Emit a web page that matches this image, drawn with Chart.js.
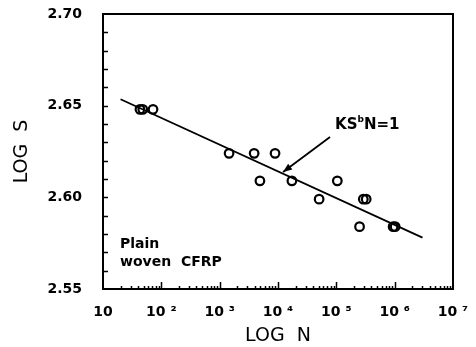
<!DOCTYPE html>
<html>
<head>
<meta charset="utf-8">
<script src="https://cdn.jsdelivr.net/npm/chart.js@4/dist/chart.umd.min.js"></script>
<style>
  html, body { margin: 0; padding: 0; background: #fff; }
  #wrap { width: 476px; height: 347px; }
</style>
</head>
<body>
<div id="wrap"><canvas id="snChart" width="476" height="347"></canvas></div>
<script>
// cycles to failure and log of stress
const cycles = [43, 48, 72, 1450, 3900, 8900, 4900, 17300, 50700, 104000, 290000, 325000, 250000, 940000, 1020000];
const logS = [2.648, 2.648, 2.648, 2.624, 2.624, 2.624, 2.609, 2.609, 2.599, 2.609, 2.599, 2.599, 2.584, 2.584, 2.584];

// fitted line KS^bN=1, end points
const fitN = [20, 3.0e6];
const fitS = [2.6535, 2.578];

// axis ticks
const xDecades = [10, 1e2, 1e3, 1e4, 1e5, 1e6, 1e7];
const xTickLabels = ["10", "10 \u00b2", "10 \u00b3", "10 \u2074", "10 \u2075", "10 \u2076", "10 \u2077"];
const yTicks = [2.55, 2.60, 2.65, 2.70];
const yMinorStep = 0.01;

// annotation: label and leader line (in data units)
const noteLabel = { n: 9.5e4, s: 2.6394 };
const noteFrom = { n: 7.8e4, s: 2.6329 };
const noteTo = { n: 1.22e4, s: 2.6138 };
const materialLines = ["Plain", "woven  CFRP"];
const materialPos = { n: 19.6, s: 2.5745 };

const frameTicks = {
  id: "frameTicks",
  afterDraw(chart) {
    const { ctx, chartArea: a, scales: { x, y } } = chart;
    ctx.save();
    ctx.strokeStyle = "#000";
    ctx.lineWidth = 1.5;
    // y ticks, inward
    for (let v = yTicks[0] + yMinorStep; v < yTicks[yTicks.length - 1] - 1e-6; v += yMinorStep) {
      const py = Math.round(y.getPixelForValue(v)) + 0.5;
      ctx.beginPath();
      ctx.moveTo(a.left, py);
      ctx.lineTo(a.left + 5, py);
      ctx.stroke();
    }
    // x ticks, inward, log minor ticks
    for (let d = 0; d < xDecades.length - 1; d++) {
      for (let m = 1; m < 10; m++) {
        const v = xDecades[d] * m;
        const px = Math.round(x.getPixelForValue(v)) + 0.5;
        const len = m === 1 ? 7 : 3;
        if (m === 1 && d === 0) continue;
        ctx.beginPath();
        ctx.moveTo(px, a.bottom);
        ctx.lineTo(px, a.bottom - len);
        ctx.stroke();
      }
    }
    // frame
    ctx.lineWidth = 2;
    ctx.strokeRect(a.left, a.top, a.right - a.left, a.bottom - a.top);

    // annotation
    ctx.fillStyle = "#000";
    const fx = x.getPixelForValue(noteFrom.n), fy = y.getPixelForValue(noteFrom.s);
    const tx = x.getPixelForValue(noteTo.n), ty = y.getPixelForValue(noteTo.s);
    ctx.lineWidth = 1.8;
    ctx.beginPath();
    ctx.moveTo(fx, fy);
    ctx.lineTo(tx, ty);
    ctx.stroke();
    const ang = Math.atan2(ty - fy, tx - fx);
    ctx.beginPath();
    ctx.moveTo(tx, ty);
    ctx.lineTo(tx - 9 * Math.cos(ang) + 3.5 * Math.sin(ang), ty - 9 * Math.sin(ang) - 3.5 * Math.cos(ang));
    ctx.lineTo(tx - 9 * Math.cos(ang) - 3.5 * Math.sin(ang), ty - 9 * Math.sin(ang) + 3.5 * Math.cos(ang));
    ctx.closePath();
    ctx.fill();

    let lx = x.getPixelForValue(noteLabel.n);
    const ly = y.getPixelForValue(noteLabel.s);
    ctx.textBaseline = "middle";
    ctx.textAlign = "left";
    ctx.font = "bold 15px 'DejaVu Sans'";
    ctx.fillText("KS", lx, ly);
    lx += ctx.measureText("KS").width;
    ctx.font = "bold 9px 'DejaVu Sans'";
    ctx.fillText("b", lx, ly - 5);
    lx += ctx.measureText("b").width;
    ctx.font = "bold 15px 'DejaVu Sans'";
    ctx.fillText("N=1", lx, ly);

    // material label
    ctx.font = "bold 14px 'DejaVu Sans'";
    const mx = x.getPixelForValue(materialPos.n);
    let my = y.getPixelForValue(materialPos.s);
    materialLines.forEach(t => { ctx.fillText(t, mx, my); my += 18; });
    ctx.restore();
  }
};

new Chart(document.getElementById("snChart"), {
  type: "scatter",
  data: {
    datasets: [
      {
        label: "data",
        data: cycles.map((n, i) => ({ x: n, y: logS[i] })),
        pointStyle: "circle",
        pointRadius: 4.3,
        pointBorderWidth: 2.2,
        borderColor: "#000",
        backgroundColor: "rgba(255,255,255,0)",
        showLine: false
      },
      {
        label: "fit",
        data: fitN.map((n, i) => ({ x: n, y: fitS[i] })),
        showLine: true,
        borderColor: "#000",
        borderWidth: 1.8,
        pointRadius: 0
      }
    ]
  },
  options: {
    responsive: false,
    animation: false,
    layout: { padding: { left: 0, right: 23, top: 14, bottom: 0 } },
    plugins: { legend: { display: false }, tooltip: { enabled: false } },
    scales: {
      x: {
        type: "logarithmic",
        min: 10,
        max: 1e7,
        afterBuildTicks: s => { s.ticks = xDecades.map(v => ({ value: v })); },
        afterFit: s => { s.height = 58; s.paddingLeft = 0; s.paddingRight = 0; },
        grid: { display: false, drawTicks: false },
        border: { display: false },
        ticks: {
          autoSkip: false,
          maxRotation: 0,
          padding: 15,
          color: "#000",
          font: { family: "DejaVu Sans", size: 14, weight: "bold" },
          callback: (v) => xTickLabels[xDecades.indexOf(v)]
        },
        title: {
          display: true,
          text: "LOG  N",
          color: "#000",
          font: { family: "DejaVu Sans", size: 19 },
          padding: { top: 0, bottom: 0 }
        }
      },
      y: {
        min: 2.55,
        max: 2.70,
        afterBuildTicks: s => { s.ticks = yTicks.map(v => ({ value: v })); },
        afterFit: s => { s.width = 103; s.paddingTop = 0; s.paddingBottom = 0; },
        grid: { display: false, drawTicks: false },
        border: { display: false },
        ticks: {
          padding: 21,
          color: "#000",
          font: { family: "DejaVu Sans", size: 14, weight: "bold" },
          callback: v => v.toFixed(2)
        },
        title: {
          display: true,
          text: "LOG  S",
          color: "#000",
          font: { family: "DejaVu Sans", size: 19 },
          padding: { top: 11, bottom: 0 }
        }
      }
    }
  },
  plugins: [frameTicks]
});
</script>
</body>
</html>
